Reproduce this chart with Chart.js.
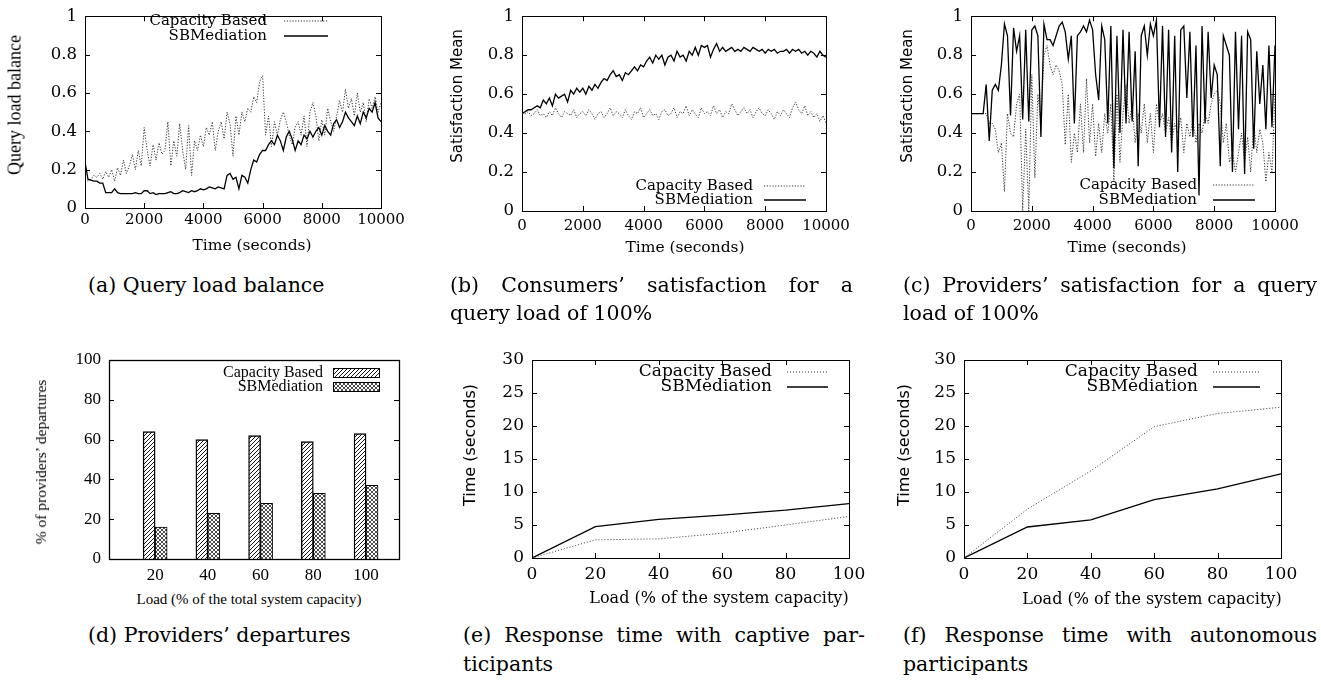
<!DOCTYPE html>
<html>
<head>
<meta charset="utf-8">
<script src="https://cdn.jsdelivr.net/npm/chart.js@4.4.0/dist/chart.umd.min.js"></script>
<style>
body { margin: 0; background: #fff; width: 1321px; height: 682px; position: relative; overflow: hidden; }
canvas { position: absolute; }
.t { position: absolute; white-space: nowrap; color: #000; transform: translate(-50%, -50%); }
.v { transform: translate(-50%, -50%) rotate(-90deg); }
.cap { position: absolute; font-family: 'DejaVu Serif'; font-size: 20.5px; line-height: 28px; white-space: nowrap; color: #000; }
.just { text-align: justify; text-align-last: justify; white-space: normal; }
</style>
</head>
<body>
<canvas id="ga" width="440" height="240" style="left:0;top:0;width:440px;height:240px"></canvas>
<canvas id="gb" width="440" height="240" style="left:440px;top:0;width:440px;height:240px"></canvas>
<canvas id="gc" width="441" height="240" style="left:880px;top:0;width:441px;height:240px"></canvas>
<canvas id="gd" width="440" height="250" style="left:0;top:340px;width:440px;height:250px"></canvas>
<canvas id="ge" width="440" height="250" style="left:440px;top:340px;width:440px;height:250px"></canvas>
<canvas id="gf" width="441" height="250" style="left:880px;top:340px;width:441px;height:250px"></canvas>

<!-- axis titles -->
<div class="t v" style="left:15px;top:105px;font:18px 'Liberation Serif'">Query load balance</div>
<div class="t" style="left:252px;top:245px;font:15.5px 'DejaVu Serif'">Time (seconds)</div>
<div class="t v" style="left:457px;top:96px;font:15px 'DejaVu Sans'">Satisfaction Mean</div>
<div class="t" style="left:685px;top:247px;font:15.5px 'DejaVu Serif'">Time (seconds)</div>
<div class="t v" style="left:907px;top:96px;font:15px 'DejaVu Sans'">Satisfaction Mean</div>
<div class="t" style="left:1127px;top:247px;font:15.5px 'DejaVu Serif'">Time (seconds)</div>
<div class="t v" style="left:41px;top:462px;font:15.5px 'Liberation Serif'">% of providers’ departures</div>
<div class="t" style="left:249px;top:599px;font:15px 'Liberation Serif'">Load (% of the total system capacity)</div>
<div class="t v" style="left:469px;top:445px;font:16px 'DejaVu Sans'">Time (seconds)</div>
<div class="t" style="left:719px;top:597px;font:16px 'DejaVu Serif'">Load (% of the system capacity)</div>
<div class="t v" style="left:903px;top:445px;font:16px 'DejaVu Sans'">Time (seconds)</div>
<div class="t" style="left:1152px;top:598px;font:16px 'DejaVu Serif'">Load (% of the system capacity)</div>

<!-- captions -->
<div class="cap" style="left:88px;top:271px">(a) Query load balance</div>
<div class="cap just" style="left:450px;top:271px;width:403px">(b) Consumers’ satisfaction for a</div>
<div class="cap" style="left:450px;top:299px">query load of 100%</div>
<div class="cap just" style="left:903px;top:271px;width:414px">(c) Providers’ satisfaction for a query</div>
<div class="cap" style="left:903px;top:299px">load of 100%</div>
<div class="cap" style="left:88px;top:621px">(d) Providers’ departures</div>
<div class="cap just" style="left:463px;top:621px;width:402px">(e) Response time with captive par-</div>
<div class="cap" style="left:463px;top:650px">ticipants</div>
<div class="cap just" style="left:903px;top:621px;width:414px">(f) Response time with autonomous</div>
<div class="cap" style="left:903px;top:650px">participants</div>

<script>
// time axis (seconds), one sample every 100 s
const times = [
  0, 100, 200, 300, 400, 500, 600, 700, 800, 900,
  1000, 1100, 1200, 1300, 1400, 1500, 1600, 1700, 1800, 1900,
  2000, 2100, 2200, 2300, 2400, 2500, 2600, 2700, 2800, 2900,
  3000, 3100, 3200, 3300, 3400, 3500, 3600, 3700, 3800, 3900,
  4000, 4100, 4200, 4300, 4400, 4500, 4600, 4700, 4800, 4900,
  5000, 5100, 5200, 5300, 5400, 5500, 5600, 5700, 5800, 5900,
  6000, 6100, 6200, 6300, 6400, 6500, 6600, 6700, 6800, 6900,
  7000, 7100, 7200, 7300, 7400, 7500, 7600, 7700, 7800, 7900,
  8000, 8100, 8200, 8300, 8400, 8500, 8600, 8700, 8800, 8900,
  9000, 9100, 9200, 9300, 9400, 9500, 9600, 9700, 9800, 9900,
  10000
];

// (a) Query load balance
const aCapacity = [
  0.15, 0.14, 0.15, 0.17, 0.16, 0.18, 0.15, 0.19, 0.16, 0.2,
  0.14, 0.21, 0.17, 0.25, 0.18, 0.22, 0.28, 0.2, 0.3, 0.22,
  0.42, 0.3, 0.22, 0.33, 0.25, 0.34, 0.28, 0.3, 0.45, 0.22,
  0.35, 0.27, 0.44, 0.3, 0.2, 0.43, 0.17, 0.35, 0.3, 0.38,
  0.32, 0.42, 0.38, 0.45, 0.3, 0.4, 0.45, 0.36, 0.5, 0.44,
  0.27, 0.48, 0.38, 0.5, 0.45, 0.52, 0.5, 0.58, 0.55, 0.66,
  0.69, 0.38, 0.48, 0.32, 0.45, 0.38, 0.46, 0.5, 0.45, 0.38,
  0.33, 0.42, 0.45, 0.38, 0.48, 0.32, 0.5, 0.55, 0.48, 0.35,
  0.46, 0.38, 0.52, 0.45, 0.4, 0.48, 0.56, 0.5, 0.62, 0.52,
  0.57, 0.48, 0.6, 0.5, 0.55, 0.45, 0.57, 0.52, 0.58, 0.5,
  0.55
];
const aSBMediation = [
  0.24, 0.15, 0.145, 0.14, 0.14, 0.13, 0.13, 0.08, 0.08, 0.08,
  0.1, 0.08, 0.075, 0.075, 0.075, 0.075, 0.075, 0.08, 0.075, 0.075,
  0.09, 0.09, 0.075, 0.08, 0.07, 0.075, 0.075, 0.075, 0.08, 0.085,
  0.075, 0.075, 0.08, 0.09, 0.085, 0.08, 0.09, 0.085, 0.09, 0.1,
  0.095, 0.1, 0.11, 0.105, 0.1, 0.11, 0.105, 0.1, 0.17, 0.18,
  0.15, 0.16, 0.1, 0.17, 0.16, 0.13, 0.2, 0.25, 0.24, 0.28,
  0.3, 0.3, 0.33, 0.35, 0.33, 0.38, 0.35, 0.3, 0.37, 0.4,
  0.36, 0.3, 0.35, 0.33, 0.38, 0.36, 0.4, 0.37, 0.4, 0.42,
  0.38, 0.43, 0.4, 0.38, 0.44, 0.46, 0.42, 0.45, 0.5, 0.47,
  0.45, 0.43, 0.48, 0.44, 0.5, 0.47, 0.52, 0.5, 0.55, 0.47,
  0.45
];

// (b) Consumers' satisfaction
const bCapacity = [
  0.5, 0.5, 0.51, 0.49, 0.5, 0.52, 0.49, 0.5, 0.48, 0.51,
  0.49, 0.53, 0.5, 0.48, 0.51, 0.5, 0.49, 0.52, 0.48, 0.5,
  0.51, 0.49, 0.52, 0.5, 0.47, 0.5, 0.51, 0.48, 0.5, 0.53,
  0.49, 0.51, 0.5, 0.48, 0.52, 0.49, 0.47, 0.51, 0.5, 0.53,
  0.48, 0.5, 0.52, 0.49, 0.5, 0.47, 0.51, 0.52, 0.49, 0.5,
  0.53, 0.48, 0.51, 0.5, 0.54, 0.49, 0.52, 0.5, 0.48, 0.53,
  0.5, 0.51, 0.49, 0.54, 0.5, 0.52, 0.48, 0.51, 0.5, 0.55,
  0.52, 0.49, 0.51, 0.53, 0.5, 0.52, 0.48, 0.51, 0.53, 0.5,
  0.49, 0.52, 0.5, 0.47, 0.51, 0.49, 0.52, 0.5, 0.48, 0.53,
  0.56, 0.52, 0.5, 0.54, 0.49, 0.51, 0.48, 0.5, 0.46, 0.49,
  0.45
];
const bSBMediation = [
  0.5, 0.51, 0.52, 0.52, 0.53, 0.54, 0.53, 0.57, 0.55, 0.58,
  0.54, 0.6, 0.58, 0.59, 0.6, 0.56, 0.62, 0.6, 0.63, 0.61,
  0.63, 0.6, 0.64, 0.62, 0.65, 0.63, 0.66, 0.68, 0.67, 0.7,
  0.72, 0.69, 0.7, 0.67, 0.71, 0.7, 0.72, 0.74, 0.72, 0.75,
  0.74, 0.77, 0.79, 0.76, 0.8, 0.78, 0.8, 0.75, 0.79, 0.8,
  0.77, 0.82, 0.79, 0.8, 0.77, 0.82, 0.8, 0.84, 0.8, 0.85,
  0.84, 0.85, 0.79, 0.83, 0.86, 0.82, 0.84, 0.82, 0.83, 0.84,
  0.82, 0.83, 0.82, 0.84, 0.83, 0.82, 0.84, 0.83, 0.82, 0.83,
  0.81, 0.83, 0.82, 0.83, 0.81, 0.82, 0.82, 0.83, 0.81, 0.83,
  0.82, 0.83, 0.81, 0.82, 0.8, 0.82, 0.81, 0.79, 0.82, 0.8,
  0.79
];

// (c) Providers' satisfaction
const cCapacity = [
  0.5, 0.5, 0.5, 0.5, 0.5, 0.5, 0.45, 0.45, 0.42, 0.3,
  0.35, 0.1, 0.5, 0.4, 0.38, 0.55, 0.6, 0.0, 0.42, 0.0,
  0.7, 0.17, 0.6, 0.45, 0.8, 0.85, 0.75, 0.7, 0.75, 0.72,
  0.65, 0.34, 0.6, 0.25, 0.4, 0.3, 0.55, 0.3, 0.68, 0.35,
  0.55, 0.28, 0.45, 0.3, 0.5, 0.4, 0.55, 0.15, 0.6, 0.25,
  0.5, 0.65, 0.45, 0.55, 0.35, 0.5, 0.4, 0.55, 0.35, 0.5,
  0.3, 0.55, 0.45, 0.5, 0.4, 0.48, 0.35, 0.45, 0.4, 0.48,
  0.3, 0.45, 0.38, 0.48, 0.35, 0.45, 0.4, 0.5, 0.45, 0.55,
  0.6, 0.62, 0.55, 0.35, 0.45, 0.25, 0.3, 0.2, 0.3, 0.4,
  0.25, 0.38, 0.2, 0.45, 0.3, 0.42, 0.35, 0.15, 0.3, 0.2,
  0.6
];
const cSBMediation = [
  0.5, 0.5, 0.5, 0.5, 0.5, 0.65, 0.36, 0.62, 0.65, 0.62,
  0.75, 0.96, 0.9, 0.49, 0.94, 0.82, 0.9, 0.47, 0.93, 0.46,
  0.93, 0.95, 0.9, 0.38, 0.96, 0.88, 0.88, 0.85, 0.9, 0.95,
  0.97, 0.92, 0.78, 0.9, 0.45, 0.9, 0.92, 0.95, 0.92, 0.98,
  0.93, 0.7, 0.57, 0.95, 0.88, 0.45, 0.95, 0.22, 0.9, 0.4,
  0.93, 0.45, 0.92, 0.46, 0.82, 0.23, 0.9, 0.95, 0.8, 0.96,
  0.9, 0.98, 0.43, 0.95, 0.38, 0.93, 0.3, 0.9, 0.2, 0.93,
  0.95, 0.58, 0.92, 0.38, 0.85, 0.08, 0.95, 0.45, 0.92, 0.58,
  0.75, 0.7, 0.23, 0.9, 0.85, 0.8, 0.2, 0.92, 0.42, 0.9,
  0.19, 0.92, 0.88, 0.32, 0.82, 0.55, 0.75, 0.42, 0.85, 0.43,
  0.85
];

// (d) Providers' departures (%)
const loads = [20, 40, 60, 80, 100];
const dCapacity = [64, 60, 62, 59, 63];
const dSBMediation = [16, 23, 28, 33, 37];

// (e) and (f) Response time (seconds)
const respLoads = [0, 20, 40, 60, 80, 100];
const eCapacity = [0, 2.75, 2.9, 3.75, 5.0, 6.3];
const eSBMediation = [0, 4.75, 5.85, 6.5, 7.25, 8.25];
const fCapacity = [0, 7.4, 13.2, 19.9, 21.9, 22.85];
const fSBMediation = [0, 4.7, 5.77, 8.83, 10.46, 12.75];

Chart.defaults.animation = false;
Chart.defaults.color = '#000';

// gnuplot-like frame with inward ticks on all sides
const framePlugin = {
    id: 'frame',
    afterDatasetsDraw(chart, args, opts) {
        const ctx = chart.ctx;
        const a = chart.chartArea;
        const L = opts.len || 5;
        ctx.save();
        ctx.strokeStyle = '#000';
        ctx.lineWidth = 1;
        ctx.beginPath();
        if (opts.xTicks !== false) {
            chart.scales.x.ticks.forEach(t => {
                const px = Math.round(chart.scales.x.getPixelForValue(t.value)) + 0.5;
                ctx.moveTo(px, a.bottom); ctx.lineTo(px, a.bottom - L);
                ctx.moveTo(px, a.top); ctx.lineTo(px, a.top + L);
            });
        }
        chart.scales.y.ticks.forEach(t => {
            const py = Math.round(chart.scales.y.getPixelForValue(t.value)) + 0.5;
            ctx.moveTo(a.left, py); ctx.lineTo(a.left + L, py);
            ctx.moveTo(a.right, py); ctx.lineTo(a.right - L, py);
        });
        ctx.stroke();
        ctx.lineWidth = opts.width || 1;
        ctx.strokeRect(Math.round(a.left) + 0.5, Math.round(a.top) + 0.5,
            Math.round(a.right - a.left), Math.round(a.bottom - a.top));
        ctx.restore();
    }
};

// key: text right-aligned, sample to the right of it
const keyPlugin = {
    id: 'gkey',
    afterDatasetsDraw(chart, args, o) {
        if (!o || !o.rows) return;
        const ctx = chart.ctx;
        ctx.save();
        ctx.font = o.font;
        ctx.textAlign = 'right';
        ctx.textBaseline = 'middle';
        chart.data.datasets.forEach((ds, i) => {
            const y = o.rows[i];
            ctx.fillStyle = '#000';
            ctx.fillText(ds.label, o.right, y);
            if (o.box) {
                ctx.fillStyle = ds.backgroundColor;
                ctx.fillRect(o.x1, y - 4.5, o.x2 - o.x1, 9);
                ctx.strokeStyle = '#000';
                ctx.lineWidth = 1;
                ctx.strokeRect(o.x1 + 0.5, y - 4.5, o.x2 - o.x1, 9);
            } else {
                ctx.strokeStyle = ds.borderColor;
                ctx.lineWidth = ds.borderWidth;
                ctx.setLineDash(ds.borderDash || []);
                ctx.beginPath();
                ctx.moveTo(o.x1, y);
                ctx.lineTo(o.x2, y);
                ctx.stroke();
                ctx.setLineDash([]);
            }
        });
        ctx.restore();
    }
};
Chart.register(framePlugin, keyPlugin);

const fmt = v => String(Math.round(v * 100) / 100);

function scalesFor(p) {
    return {
        x: {
            type: 'linear', min: p.xmin, max: p.xmax, offset: false,
            grid: { display: false, drawTicks: false }, border: { display: false },
            afterBuildTicks: p.xticks ? (s) => { s.ticks = p.xticks.map(v => ({ value: v })); } : undefined,
            ticks: { stepSize: p.xstep, padding: p.xpad, maxRotation: 0, autoSkip: false,
                     font: p.tickFont, color: '#000', callback: fmt },
            afterFit: (s) => { s.height = p.xh; }
        },
        y: {
            min: p.ymin, max: p.ymax,
            grid: { display: false, drawTicks: false }, border: { display: false },
            ticks: { stepSize: p.ystep, padding: 8, font: p.yFont || p.tickFont, color: '#000', callback: fmt },
            afterFit: (s) => { s.width = p.yw; }
        }
    };
}

const capStyle = { borderColor: '#333', borderWidth: 1, borderDash: [1.2, 1.6], pointRadius: 0, tension: 0, order: 2 };
const sbStyle = { borderColor: '#000', borderWidth: 1.3, pointRadius: 0, tension: 0, order: 1 };
const serif15 = { family: 'DejaVu Serif', size: 15, lineHeight: 1 };
const serif16 = { family: 'DejaVu Serif', size: 16.5, lineHeight: 1 };
const serif17 = { family: 'DejaVu Serif', size: 17, lineHeight: 1 };
const times17 = { family: 'Liberation Serif', size: 17, lineHeight: 1 };

// (a)
new Chart(document.getElementById('ga'), {
    type: 'line',
    data: {
        labels: times,
        datasets: [
            Object.assign({ label: 'Capacity Based', data: aCapacity }, capStyle),
            Object.assign({ label: 'SBMediation', data: aSBMediation }, sbStyle)
        ]
    },
    options: {
        responsive: false,
        layout: { padding: { top: 9, right: 59, left: 0, bottom: 0 } },
        scales: scalesFor({ xmin: 0, xmax: 10000, xstep: 2000, xpad: 5, xh: 32, ymin: 0, ymax: 1, ystep: 0.2, yw: 85, tickFont: serif15, yFont: serif16 }),
        plugins: {
            legend: { display: false }, tooltip: { enabled: false },
            gkey: { font: "15px 'DejaVu Serif'", right: 267, x1: 284, x2: 328, rows: [21, 36] }
        }
    }
});

// (b)
new Chart(document.getElementById('gb'), {
    type: 'line',
    data: {
        labels: times,
        datasets: [
            Object.assign({ label: 'Capacity Based', data: bCapacity }, capStyle),
            Object.assign({ label: 'SBMediation', data: bSBMediation }, sbStyle)
        ]
    },
    options: {
        responsive: false,
        layout: { padding: { top: 9, right: 54, left: 0, bottom: 0 } },
        scales: scalesFor({ xmin: 0, xmax: 10000, xstep: 2000, xpad: 8, xh: 29, ymin: 0, ymax: 1, ystep: 0.2, yw: 82, tickFont: serif15, yFont: serif16 }),
        plugins: {
            legend: { display: false }, tooltip: { enabled: false },
            gkey: { font: "15px 'DejaVu Serif'", right: 313, x1: 324, x2: 366, rows: [186, 200] }
        }
    }
});

// (c)
new Chart(document.getElementById('gc'), {
    type: 'line',
    data: {
        labels: times,
        datasets: [
            Object.assign({ label: 'Capacity Based', data: cCapacity }, capStyle),
            Object.assign({ label: 'SBMediation', data: cSBMediation }, sbStyle)
        ]
    },
    options: {
        responsive: false,
        layout: { padding: { top: 9, right: 46, left: 0, bottom: 0 } },
        scales: scalesFor({ xmin: 0, xmax: 10000, xstep: 2000, xpad: 8, xh: 29, ymin: 0, ymax: 1, ystep: 0.2, yw: 91, tickFont: serif15, yFont: serif16 }),
        plugins: {
            legend: { display: false }, tooltip: { enabled: false },
            gkey: { font: "15px 'DejaVu Serif'", right: 317, x1: 333, x2: 375, rows: [185, 200] }
        }
    }
});

// (d) hatched bars
function makePattern(kind) {
    const c = document.createElement('canvas');
    c.width = 4; c.height = 4;
    const g = c.getContext('2d');
    g.fillStyle = '#fff';
    g.fillRect(0, 0, 4, 4);
    g.strokeStyle = '#000';
    g.lineWidth = kind === 'cross' ? 0.7 : 0.9;
    g.beginPath();
    g.moveTo(0, 4); g.lineTo(4, 0);
    g.moveTo(-1, 1); g.lineTo(1, -1);
    g.moveTo(3, 5); g.lineTo(5, 3);
    if (kind === 'cross') {
        g.moveTo(0, 0); g.lineTo(4, 4);
        g.moveTo(-1, 3); g.lineTo(1, 5);
        g.moveTo(3, -1); g.lineTo(5, 1);
    }
    g.stroke();
    return g.createPattern(c, 'repeat');
}

new Chart(document.getElementById('gd'), {
    type: 'bar',
    data: {
        datasets: [
            { label: 'Capacity Based', data: loads.map((l, i) => ({ x: l, y: dCapacity[i] })),
              backgroundColor: makePattern('hatch'), borderColor: '#000', borderWidth: 1.4, barThickness: 12 },
            { label: 'SBMediation', data: loads.map((l, i) => ({ x: l, y: dSBMediation[i] })),
              backgroundColor: makePattern('cross'), borderColor: '#000', borderWidth: 1, barThickness: 12 }
        ]
    },
    options: {
        responsive: false,
        layout: { padding: { top: 20, right: 41, left: 0, bottom: 0 } },
        scales: scalesFor({ xmin: 2.5, xmax: 112.5, xticks: loads, xpad: 8, xh: 31, ymin: 0, ymax: 100, ystep: 20, yw: 109, tickFont: times17 }),
        plugins: {
            legend: { display: false }, tooltip: { enabled: false },
            frame: { xTicks: false, width: 1.3 },
            gkey: { font: "16px 'Liberation Serif'", right: 323, x1: 333, x2: 379, rows: [33, 47], box: true }
        }
    }
});

// (e)
new Chart(document.getElementById('ge'), {
    type: 'line',
    data: {
        labels: respLoads,
        datasets: [
            Object.assign({ label: 'Capacity Based', data: eCapacity }, capStyle, { borderDash: [1, 2] }),
            Object.assign({ label: 'SBMediation', data: eSBMediation }, sbStyle)
        ]
    },
    options: {
        responsive: false,
        layout: { padding: { top: 20, right: 31, left: 0, bottom: 0 } },
        scales: scalesFor({ xmin: 0, xmax: 100, xstep: 20, xpad: 8, xh: 32, ymin: 0, ymax: 30, ystep: 5, yw: 92, tickFont: serif17 }),
        plugins: {
            legend: { display: false }, tooltip: { enabled: false },
            gkey: { font: "17px 'DejaVu Serif'", right: 332, x1: 347, x2: 388, rows: [32, 47] }
        }
    }
});

// (f)
new Chart(document.getElementById('gf'), {
    type: 'line',
    data: {
        labels: respLoads,
        datasets: [
            Object.assign({ label: 'Capacity Based', data: fCapacity }, capStyle, { borderDash: [1, 2] }),
            Object.assign({ label: 'SBMediation', data: fSBMediation }, sbStyle)
        ]
    },
    options: {
        responsive: false,
        layout: { padding: { top: 20, right: 40, left: 0, bottom: 0 } },
        scales: scalesFor({ xmin: 0, xmax: 100, xstep: 20, xpad: 8, xh: 32, ymin: 0, ymax: 30, ystep: 5, yw: 84, tickFont: serif17 }),
        plugins: {
            legend: { display: false }, tooltip: { enabled: false },
            gkey: { font: "17px 'DejaVu Serif'", right: 318, x1: 333, x2: 380, rows: [32, 47] }
        }
    }
});
</script>
</body>
</html>
